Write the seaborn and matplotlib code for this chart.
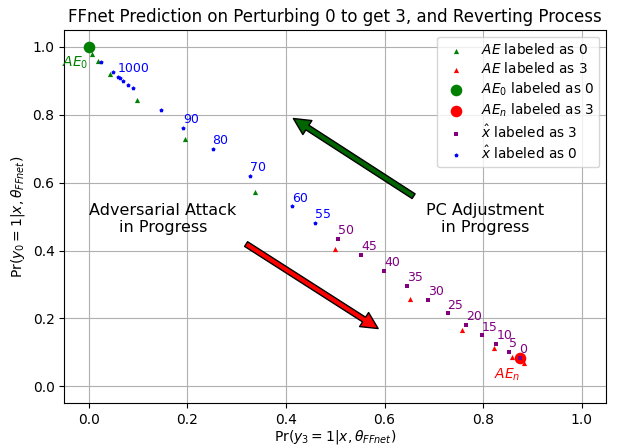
import matplotlib
matplotlib.use("Agg")
import matplotlib.pyplot as plt
import seaborn as sns
import pandas as pd

# AE labeled as 0 (green triangles)
ae0_x = [0.006, 0.018, 0.043, 0.098, 0.195, 0.337]
ae0_y = [0.979, 0.958, 0.919, 0.845, 0.728, 0.572]
# AE labeled as 3 (red triangles)
ae3_x = [0.500, 0.652, 0.757, 0.822, 0.858, 0.884]
ae3_y = [0.403, 0.258, 0.166, 0.114, 0.087, 0.069]
# AE_0 and AE_n
ae_start = (0.0, 1.0)
ae_end = (0.874, 0.083)
# x-hat labeled as 0 (blue)
xh0_x = [0.024, 0.049, 0.059, 0.063, 0.069, 0.080, 0.089, 0.146, 0.191, 0.251, 0.326, 0.412, 0.459]
xh0_y = [0.957, 0.926, 0.912, 0.908, 0.901, 0.889, 0.878, 0.813, 0.762, 0.699, 0.619, 0.530, 0.481]
xh0_lbl = ["", "", "1000", "", "", "", "", "", "90", "80", "70", "60", "55"]
# x-hat labeled as 3 (purple)
xh3_x = [0.506, 0.553, 0.599, 0.645, 0.688, 0.728, 0.765, 0.797, 0.827, 0.852, 0.874]
xh3_y = [0.434, 0.387, 0.340, 0.295, 0.254, 0.215, 0.181, 0.150, 0.124, 0.102, 0.083]
xh3_lbl = ["50", "45", "40", "35", "30", "25", "20", "15", "10", "5", "0"]

fig = plt.figure(figsize=(6.18, 4.47), dpi=100)
ax = fig.add_axes([0.104, 0.098, 0.877, 0.835])

sns.scatterplot(x=ae0_x, y=ae0_y, color="green", marker="^", s=14, linewidth=0, ax=ax,
                label="$AE$ labeled as 0", zorder=3)
sns.scatterplot(x=ae3_x, y=ae3_y, color="red", marker="^", s=14, linewidth=0, ax=ax,
                label="$AE$ labeled as 3", zorder=3)
sns.scatterplot(x=[ae_start[0]], y=[ae_start[1]], color="green", marker="o", s=70, linewidth=0,
                ax=ax, label="$AE_0$ labeled as 0", zorder=3)
sns.scatterplot(x=[ae_end[0]], y=[ae_end[1]], color="red", marker="o", s=70, linewidth=0,
                ax=ax, label="$AE_n$ labeled as 3", zorder=3)
sns.scatterplot(x=xh3_x, y=xh3_y, color="purple", marker="s", s=7, linewidth=0, ax=ax,
                label=r"$\hat{x}$ labeled as 3", zorder=4)
sns.scatterplot(x=xh0_x, y=xh0_y, color="blue", marker="p", s=10, linewidth=0, ax=ax,
                label=r"$\hat{x}$ labeled as 0", zorder=4)

for x, y, t in zip(xh0_x, xh0_y, xh0_lbl):
    if t:
        ax.text(x, y + 0.005, t, color="blue", fontsize=9, ha="left", va="bottom")
for x, y, t in zip(xh3_x, xh3_y, xh3_lbl):
    ax.text(x, y + 0.005, t, color="purple", fontsize=9, ha="left", va="bottom")

ax.text(0.0, 0.953, "$AE_0$", color="green", fontsize=10, ha="right", va="center")
ax.text(0.850, 0.035, "$AE_n$", color="red", fontsize=10, ha="center", va="center")

ax.annotate("", xy=(0.415, 0.789), xytext=(0.659, 0.560),
            arrowprops=dict(facecolor="darkgreen", edgecolor="black", width=4, headwidth=12,
                            headlength=12, linewidth=1))
ax.annotate("", xy=(0.587, 0.170), xytext=(0.319, 0.419),
            arrowprops=dict(facecolor="red", edgecolor="black", width=4, headwidth=12,
                            headlength=12, linewidth=1))

ax.text(0.150, 0.493, "Adversarial Attack\nin Progress", fontsize=11.5, ha="center", va="center")
ax.text(0.805, 0.493, "PC Adjustment\nin Progress", fontsize=11.5, ha="center", va="center")

ax.set_xlim(-0.05, 1.05)
ax.set_ylim(-0.05, 1.05)
ax.set_xticks([0.0, 0.2, 0.4, 0.6, 0.8, 1.0])
ax.set_yticks([0.0, 0.2, 0.4, 0.6, 0.8, 1.0])
ax.grid(True, color="#b0b0b0", linewidth=0.8)
ax.set_axisbelow(True)
ax.set_xlabel(r"Pr($y_3=1|x,\theta_{FFnet}$)", fontsize=10, labelpad=1)
ax.set_ylabel(r"Pr($y_0=1|x,\theta_{FFnet}$)", fontsize=10)
ax.set_title("FFnet Prediction on Perturbing 0 to get 3, and Reverting Process", fontsize=12)
ax.legend(loc="upper right", fontsize=9.8, markerscale=1.0, labelspacing=0.3)

fig.savefig("out.png", dpi=100)
